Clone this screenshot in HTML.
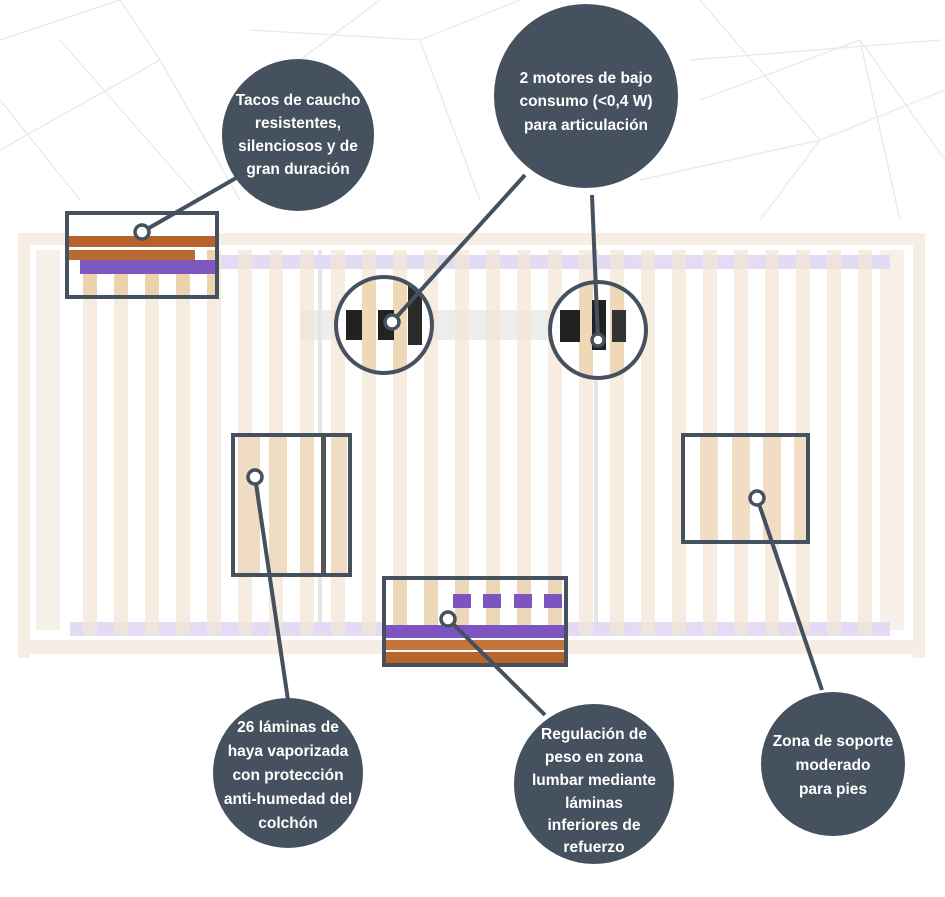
<!DOCTYPE html>
<html><head><meta charset="utf-8"><style>
html,body{margin:0;padding:0;background:#fff;}
svg{display:block}
text{font-family:"Liberation Sans",sans-serif;font-weight:bold;font-size:15.5px;fill:#fff;text-anchor:middle}
</style></head><body>
<svg width="945" height="897" viewBox="0 0 945 897" xmlns="http://www.w3.org/2000/svg">
<defs>
<clipPath id="c1"><rect x="69" y="215" width="146" height="80"/></clipPath>
<clipPath id="c2"><rect x="235" y="437" width="113" height="136"/></clipPath>
<clipPath id="c3"><rect x="685" y="437" width="121" height="103"/></clipPath>
<clipPath id="c4"><rect x="386" y="580" width="178" height="83"/></clipPath>
<clipPath id="k1"><circle cx="384" cy="325" r="46"/></clipPath>
<clipPath id="k2"><circle cx="598" cy="330" r="46"/></clipPath>
</defs>
<g stroke="#e8e8e8" stroke-width="1.2" fill="none">
<path d="M0 40 L120 0 M60 40 L200 200 M0 150 L160 60 L240 200 M160 60 L120 0 M380 0 L300 60 M420 40 L480 200 M420 40 L520 0 M700 0 L820 140 L945 90 M700 100 L860 40 L945 160 M820 140 L760 220 M860 40 L900 220 M640 180 L820 140 M0 100 L80 200 M250 30 L420 40 M690 60 L940 40"/>
</g>
<g opacity="0.5">
<rect x="18" y="233" width="907" height="12" fill="#efdccb"/>
<rect x="18" y="233" width="12" height="425" fill="#efdccb"/>
<rect x="913" y="233" width="12" height="425" fill="#efdccb"/>
<rect x="18" y="640" width="907" height="14" fill="#efdccb"/>
<rect x="36" y="250" width="24" height="380" fill="#f0e2d3"/>
<rect x="880" y="250" width="24" height="380" fill="#f0e2d3"/>
<rect x="300" y="310" width="330" height="30" fill="#ddd"/>
<rect x="318" y="250" width="4" height="380" fill="#ccc"/>
<rect x="594" y="250" width="4" height="380" fill="#ccc"/>
<rect x="70" y="255" width="820" height="14" fill="#c9b8ea"/>
<rect x="70" y="622" width="820" height="14" fill="#c9b8ea"/>
</g>
<g fill="#f3e6d6" opacity="0.75">
<rect x="83" y="250" width="14" height="385"/><rect x="114" y="250" width="14" height="385"/><rect x="145" y="250" width="14" height="385"/><rect x="176" y="250" width="14" height="385"/><rect x="207" y="250" width="14" height="385"/><rect x="238" y="250" width="14" height="385"/><rect x="269" y="250" width="14" height="385"/><rect x="300" y="250" width="14" height="385"/><rect x="331" y="250" width="14" height="385"/><rect x="362" y="250" width="14" height="385"/><rect x="393" y="250" width="14" height="385"/><rect x="424" y="250" width="14" height="385"/><rect x="455" y="250" width="14" height="385"/><rect x="486" y="250" width="14" height="385"/><rect x="517" y="250" width="14" height="385"/><rect x="548" y="250" width="14" height="385"/><rect x="579" y="250" width="14" height="385"/><rect x="610" y="250" width="14" height="385"/><rect x="641" y="250" width="14" height="385"/><rect x="672" y="250" width="14" height="385"/><rect x="703" y="250" width="14" height="385"/><rect x="734" y="250" width="14" height="385"/><rect x="765" y="250" width="14" height="385"/><rect x="796" y="250" width="14" height="385"/><rect x="827" y="250" width="14" height="385"/><rect x="858" y="250" width="14" height="385"/>
</g>
<g clip-path="url(#c1)">
<rect x="60" y="215" width="160" height="85" fill="#fff"/>
<g fill="#ecd2ad"><rect x="83" y="250" width="14" height="50"/><rect x="114" y="250" width="14" height="50"/><rect x="145" y="250" width="14" height="50"/><rect x="176" y="250" width="14" height="50"/><rect x="207" y="250" width="14" height="50"/></g>
<rect x="60" y="236" width="160" height="11" fill="#b5622c"/>
<rect x="60" y="250" width="135" height="10" fill="#b86a34"/>
<rect x="80" y="260" width="135" height="14" fill="#7f57c0"/>
</g>
<g clip-path="url(#c2)">
<rect x="230" y="430" width="125" height="150" fill="#fff"/>
<g fill="#efdcc2"><rect x="238" y="430" width="22" height="150"/><rect x="269" y="430" width="18" height="150"/><rect x="300" y="430" width="14" height="150"/><rect x="331" y="430" width="16" height="150"/></g>
<rect x="321" y="430" width="5" height="150" fill="#555"/>
</g>
<g clip-path="url(#c3)">
<rect x="680" y="430" width="130" height="115" fill="#fff"/>
<g fill="#f0ddc4"><rect x="700" y="430" width="18" height="115"/><rect x="732" y="430" width="18" height="115"/><rect x="763" y="430" width="18" height="115"/><rect x="794" y="430" width="14" height="115"/></g>
</g>
<g clip-path="url(#c4)">
<rect x="380" y="575" width="190" height="95" fill="#fff"/>
<g fill="#ecd7b9"><rect x="393" y="575" width="14" height="60"/><rect x="424" y="575" width="14" height="60"/><rect x="455" y="575" width="14" height="60"/><rect x="486" y="575" width="14" height="60"/><rect x="517" y="575" width="14" height="60"/><rect x="548" y="575" width="14" height="60"/></g>
<g fill="#7d55c0"><rect x="453" y="594" width="18" height="14"/><rect x="483" y="594" width="18" height="14"/><rect x="514" y="594" width="18" height="14"/><rect x="544" y="594" width="18" height="14"/></g>
<rect x="386" y="625" width="178" height="13" fill="#7d55c0"/>
<rect x="386" y="640" width="178" height="10" fill="#c4763a"/>
<rect x="386" y="652" width="178" height="12" fill="#b8652c"/>
</g>
<g clip-path="url(#k1)">
<rect x="330" y="270" width="110" height="110" fill="#fff"/>
<g fill="#efd8b5"><rect x="362" y="270" width="14" height="110"/><rect x="393" y="270" width="14" height="110"/></g>
<rect x="346" y="310" width="16" height="30" fill="#222"/><rect x="378" y="310" width="16" height="30" fill="#222"/><rect x="408" y="275" width="14" height="70" fill="#2a2a2a"/>
</g>
<g clip-path="url(#k2)">
<rect x="545" y="275" width="110" height="110" fill="#fff"/>
<g fill="#efd8b5"><rect x="579" y="275" width="14" height="110"/><rect x="610" y="275" width="14" height="110"/></g>
<rect x="560" y="310" width="20" height="32" fill="#222"/><rect x="592" y="300" width="14" height="50" fill="#222"/><rect x="612" y="310" width="14" height="32" fill="#333"/>
</g>
<g stroke="#45515e" stroke-width="4" fill="none">
<rect x="67" y="213" width="150" height="84"/>
<rect x="233" y="435" width="117" height="140"/>
<rect x="683" y="435" width="125" height="107"/>
<rect x="384" y="578" width="182" height="87"/>
<circle cx="384" cy="325" r="48"/>
<circle cx="598" cy="330" r="48"/>
<line x1="142" y1="232" x2="250" y2="170"/>
<line x1="392" y1="322" x2="525" y2="175"/>
<line x1="598" y1="340" x2="592" y2="195"/>
<line x1="255" y1="477" x2="288" y2="700"/>
<line x1="448" y1="619" x2="545" y2="715"/>
<line x1="757" y1="498" x2="822" y2="690"/>
</g>
<g stroke="#45515e" stroke-width="3.5" fill="#fff">
<circle cx="142" cy="232" r="7"/>
<circle cx="392" cy="322" r="7"/>
<circle cx="598" cy="340" r="6"/>
<circle cx="255" cy="477" r="7"/>
<circle cx="448" cy="619" r="7"/>
<circle cx="757" cy="498" r="7"/>
</g>
<g fill="#45515e">
<circle cx="298" cy="135" r="76"/>
<circle cx="586" cy="96" r="92"/>
<circle cx="288" cy="773" r="75"/>
<circle cx="594" cy="784" r="80"/>
<circle cx="833" cy="764" r="72"/>
</g>
<text x="298" y="105">Tacos de caucho</text>
<text x="298" y="128">resistentes,</text>
<text x="298" y="151">silenciosos y de</text>
<text x="298" y="174">gran duración</text>
<text x="586" y="83">2 motores de bajo</text>
<text x="586" y="106">consumo (&lt;0,4 W)</text>
<text x="586" y="130">para articulación</text>
<text x="288" y="732">26 láminas de</text>
<text x="288" y="756">haya vaporizada</text>
<text x="288" y="780">con protección</text>
<text x="288" y="804">anti-humedad del</text>
<text x="288" y="828">colchón</text>
<text x="594" y="739">Regulación de</text>
<text x="594" y="762">peso en zona</text>
<text x="594" y="785">lumbar mediante</text>
<text x="594" y="808">láminas</text>
<text x="594" y="830">inferiores de</text>
<text x="594" y="852">refuerzo</text>
<text x="833" y="746">Zona de soporte</text>
<text x="833" y="770">moderado</text>
<text x="833" y="794">para pies</text>
</svg>
</body></html>
